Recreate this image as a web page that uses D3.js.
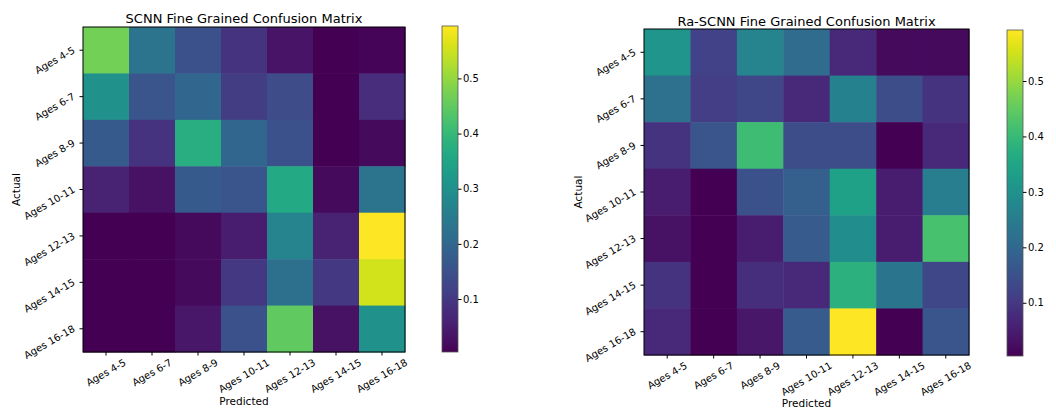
<!DOCTYPE html>
<html lang="en">
<head>
    <meta charset="UTF-8">
    <title>confusion matrices</title>
    <script src="https://d3js.org/d3.v7.min.js"></script>
    <style>
        body { margin: 0; background: #fff; }
        text { font-family: "DejaVu Sans", sans-serif; fill: #000; }
    </style>
</head>
<body>
<script>
// category labels (same on both axes)
var ages = ["Ages 4-5", "Ages 6-7", "Ages 8-9", "Ages 10-11", "Ages 12-13", "Ages 14-15", "Ages 16-18"];
var cbarTicks = [0.1, 0.2, 0.3, 0.4, 0.5];

// rows = actual, columns = predicted
var scnnValues = [
    [0.47, 0.23, 0.15, 0.09, 0.035, 0.004, 0.01],
    [0.30, 0.16, 0.20, 0.11, 0.14, 0.004, 0.08],
    [0.17, 0.09, 0.375, 0.20, 0.15, 0.004, 0.02],
    [0.06, 0.03, 0.17, 0.16, 0.36, 0.02, 0.23],
    [0.004, 0.004, 0.02, 0.05, 0.27, 0.06, 0.595],
    [0.004, 0.004, 0.02, 0.10, 0.22, 0.10, 0.555],
    [0.004, 0.004, 0.04, 0.15, 0.45, 0.03, 0.30]
];
var raValues = [
    [0.31, 0.12, 0.27, 0.21, 0.07, 0.02, 0.02],
    [0.22, 0.11, 0.13, 0.07, 0.26, 0.14, 0.09],
    [0.09, 0.16, 0.41, 0.14, 0.14, 0.005, 0.07],
    [0.05, 0.005, 0.15, 0.18, 0.34, 0.05, 0.25],
    [0.03, 0.004, 0.05, 0.17, 0.29, 0.05, 0.42],
    [0.09, 0.004, 0.08, 0.07, 0.38, 0.23, 0.13],
    [0.07, 0.004, 0.04, 0.17, 0.592, 0.005, 0.16]
];

var svg = d3.select("body").append("svg")
    .attr("width", 1056)
    .attr("height", 408);

var defs = svg.append("defs");

function drawMatrix(cfg) {
    var flat = d3.merge(cfg.values);
    var vmin = d3.min(flat), vmax = d3.max(flat);
    var color = d3.scaleSequential(d3.interpolateViridis).domain([vmin, vmax]);

    var x = d3.scaleBand().domain(ages).range([cfg.x0, cfg.x1]);
    var y = d3.scaleBand().domain(ages).range([cfg.y0, cfg.y1]);

    var g = svg.append("g");

    // cells
    cfg.values.forEach(function(row, i) {
        g.selectAll(null)
            .data(row)
            .enter()
            .append("rect")
            .attr("x", function(d, j) { return x(ages[j]); })
            .attr("y", y(ages[i]))
            .attr("width", x.bandwidth() + 0.5)
            .attr("height", y.bandwidth() + 0.5)
            .attr("fill", function(d) { return color(d); });
    });

    // frame
    g.append("rect")
        .attr("x", cfg.x0).attr("y", cfg.y0)
        .attr("width", cfg.x1 - cfg.x0).attr("height", cfg.y1 - cfg.y0)
        .attr("fill", "none").attr("stroke", "#000").attr("stroke-width", 1);

    // x axis
    var xa = g.append("g")
        .attr("transform", "translate(0," + cfg.y1 + ")")
        .call(d3.axisBottom(x).tickSize(3.5).tickPadding(0));
    xa.select(".domain").remove();
    xa.selectAll("line").attr("stroke", "#000");
    xa.selectAll("text")
        .attr("font-size", 10)
        .attr("text-anchor", "middle")
        .attr("dominant-baseline", "central")
        .attr("dy", null)
        .attr("y", null)
        .attr("transform", function() {
            var w = this.getComputedTextLength(), h = 8;
            var H = w * 0.5 + h * 0.866;
            return "translate(0," + (6 + H / 2) + ") rotate(-30)";
        });

    // y axis
    var ya = g.append("g")
        .attr("transform", "translate(" + cfg.x0 + ",0)")
        .call(d3.axisLeft(y).tickSize(3.5).tickPadding(0));
    ya.select(".domain").remove();
    ya.selectAll("line").attr("stroke", "#000");
    ya.selectAll("text")
        .attr("font-size", 10)
        .attr("text-anchor", "end")
        .attr("dominant-baseline", "central")
        .attr("dy", null)
        .attr("x", null)
        .attr("transform", "translate(-9,-1) rotate(-30)");

    // title and axis labels
    g.append("text")
        .attr("x", (cfg.x0 + cfg.x1) / 2).attr("y", cfg.titleY)
        .attr("text-anchor", "middle").attr("font-size", 13)
        .text(cfg.title);
    g.append("text")
        .attr("x", (cfg.x0 + cfg.x1) / 2).attr("y", cfg.xlabY)
        .attr("text-anchor", "middle").attr("dominant-baseline", "central")
        .attr("font-size", 10.5)
        .text("Predicted");
    g.append("text")
        .attr("transform", "translate(" + cfg.ylabX + "," + (cfg.y0 + cfg.y1) / 2 + ") rotate(-90)")
        .attr("text-anchor", "middle").attr("dominant-baseline", "central")
        .attr("font-size", 10.5)
        .text("Actual");

    // colorbar
    var gid = "grad" + cfg.id;
    var grad = defs.append("linearGradient")
        .attr("id", gid)
        .attr("x1", 0).attr("y1", 1).attr("x2", 0).attr("y2", 0);
    d3.range(0, 1.0001, 0.02).forEach(function(t) {
        grad.append("stop")
            .attr("offset", t)
            .attr("stop-color", d3.interpolateViridis(t));
    });
    g.append("rect")
        .attr("x", cfg.cx0).attr("y", cfg.cy0)
        .attr("width", cfg.cx1 - cfg.cx0).attr("height", cfg.cy1 - cfg.cy0)
        .attr("fill", "url(#" + gid + ")")
        .attr("stroke", "#555").attr("stroke-width", 0.8);

    var cs = d3.scaleLinear().domain([vmin, vmax]).range([cfg.cy1, cfg.cy0]);
    var ca = g.append("g")
        .attr("transform", "translate(" + cfg.cx1 + ",0)")
        .call(d3.axisRight(cs).tickValues(cbarTicks).tickFormat(d3.format(".1f")).tickSize(3.5).tickPadding(1.5));
    ca.select(".domain").remove();
    ca.selectAll("line").attr("stroke", "#000");
    ca.selectAll("text").attr("font-size", 10);
}

drawMatrix({
    id: "a", title: "SCNN Fine Grained Confusion Matrix", values: scnnValues,
    x0: 83, x1: 405, y0: 27, y1: 352,
    cx0: 442, cx1: 458, cy0: 26, cy1: 352,
    titleY: 23, xlabY: 401, ylabX: 16
});
drawMatrix({
    id: "b", title: "Ra-SCNN Fine Grained Confusion Matrix", values: raValues,
    x0: 644, x1: 969, y0: 29, y1: 355,
    cx0: 1007, cx1: 1023, cy0: 30, cy1: 356,
    titleY: 26, xlabY: 403, ylabX: 578
});
</script>
</body>
</html>
